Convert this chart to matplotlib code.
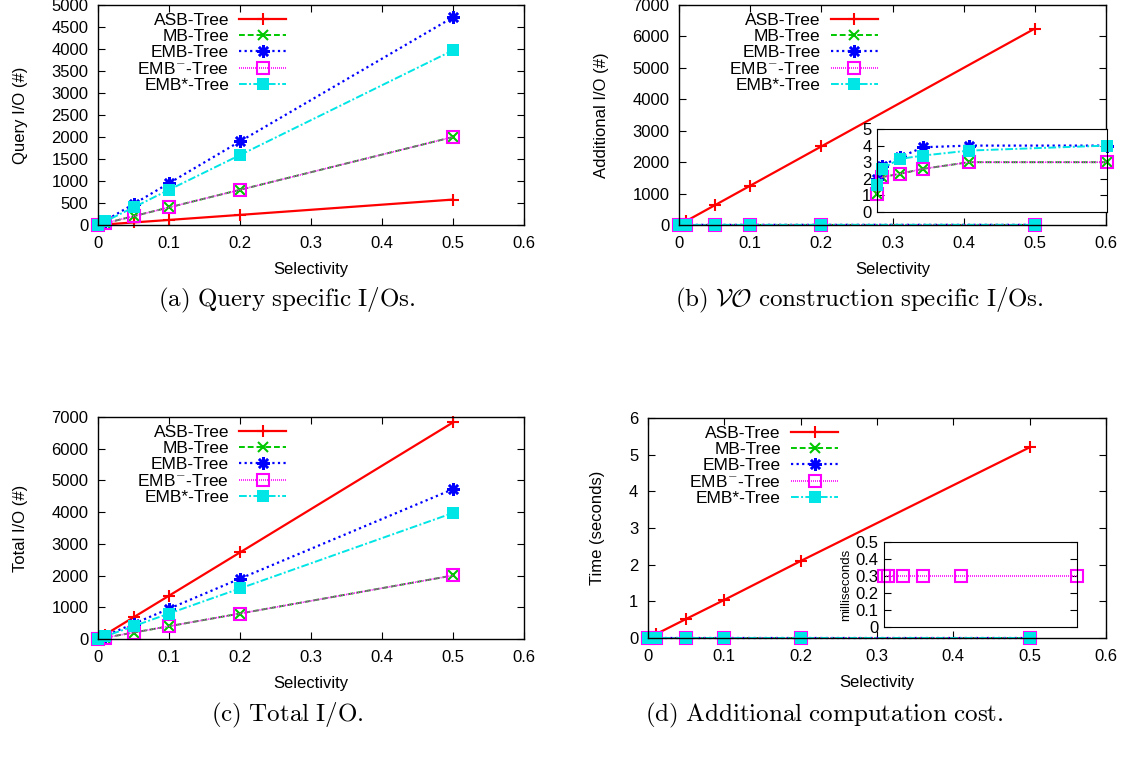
import numpy as np
import matplotlib
matplotlib.use("Agg")
import matplotlib.pyplot as plt

plt.rcParams['font.family'] = ['Liberation Sans', 'DejaVu Sans']
plt.rcParams['mathtext.fontset'] = 'cm'

# selectivity values
sel = [0.0, 0.01, 0.05, 0.1, 0.2, 0.5]

# (a) query I/O
q_asb = [2, 12, 58, 115, 230, 578]
q_mb = [0, 40, 200, 400, 800, 2000]
q_emb = [0, 95, 475, 950, 1900, 4720]
q_embm = [0, 40, 200, 400, 800, 2000]
q_embs = [0, 80, 400, 800, 1590, 3970]

# (b) additional I/O
a_asb = [12, 125, 625, 1250, 2500, 6250]
a_mb = [1.1, 2.1, 2.3, 2.6, 3.0, 3.0]
a_emb = [2.0, 2.8, 3.3, 3.9, 4.0, 4.0]
a_embm = [1.1, 2.1, 2.3, 2.6, 3.0, 3.0]
a_embs = [1.6, 2.6, 3.2, 3.4, 3.7, 4.0]

# (c) total I/O
t_asb = [14, 137, 683, 1365, 2730, 6830]
t_mb = [1, 42, 202, 403, 803, 2003]
t_emb = [2, 98, 478, 954, 1904, 4724]
t_embm = [1, 42, 202, 403, 803, 2003]
t_embs = [2, 83, 403, 803, 1594, 3974]

# (d) time in seconds, inset in milliseconds
s_asb = [0.01, 0.1, 0.52, 1.04, 2.1, 5.2]
ms_embm = [0.3, 0.3, 0.3, 0.3, 0.3, 0.3]

labels = ['ASB-Tree', 'MB-Tree', 'EMB-Tree', 'EMB$^{\\mathsf{-}}$-Tree', 'EMB*-Tree']
styles = [
    dict(color='#ff0000', ls='-', marker='+', ms=9, mew=1.5, lw=1.6),
    dict(color='#00c800', ls=(0, (3, 1.5)), marker='x', ms=7, mew=1.5, lw=1.4),
    dict(color='#0000ff', ls=(0, (1, 1.5)), marker=(8, 2, 0), ms=9, mew=1.8, lw=1.6),
    dict(color='#ff00ff', ls=(0, (0.6, 0.6)), marker='s', ms=8, mew=1.5, lw=1.2, mfc='none'),
    dict(color='#00e5e5', ls=(0, (4, 1.2, 1, 1.2)), marker='s', ms=8, mew=0, lw=1.4),
]

FS = 12
W, H = 1127, 763
fig = plt.figure(figsize=(W / 100, H / 100), dpi=100)


def px_axes(l, t, r, b):
    return fig.add_axes([l / W, 1 - b / H, (r - l) / W, (b - t) / H])


def style(ax, ymax, ystep, ylabel):
    ax.set_xlim(0, 0.6)
    ax.set_ylim(0, ymax)
    ax.set_xticks(np.arange(0, 0.61, 0.1))
    ax.set_xticklabels(['0', '0.1', '0.2', '0.3', '0.4', '0.5', '0.6'])
    ax.set_yticks(np.arange(0, ymax + ystep / 2, ystep))
    ax.tick_params(direction='in', top=True, right=True, labelsize=FS, length=5, width=0.8)
    ax.tick_params(axis='x', pad=8)
    ax.tick_params(axis='y', pad=7)
    ax.set_xlabel('Selectivity', fontsize=FS, labelpad=8)
    ax.set_ylabel(ylabel, fontsize=FS, labelpad=17)
    for s in ax.spines.values():
        s.set_linewidth(1.0)


def legend(ax, x, y):
    leg = ax.legend(loc='upper right', bbox_to_anchor=(x, y), frameon=False, fontsize=FS + 0.5,
                    markerfirst=False, handlelength=2.7, handletextpad=0.6,
                    labelspacing=0.05, borderpad=0, borderaxespad=0)
    for col in leg._legend_handle_box.get_children():
        col.align = 'right'
    return leg


def series(ax, ys, clip=True):
    for y, lab, st in zip(ys, labels, styles):
        ax.plot(sel, y, label=lab, clip_on=clip, **st)


# (a)
ax1 = px_axes(98, 5, 524, 225)
series(ax1, [q_asb, q_mb, q_emb, q_embm, q_embs], clip=False)
style(ax1, 5000, 500, 'Query I/O (#)')
legend(ax1, 0.442, 0.965)

# (b)
ax2 = px_axes(679, 5, 1106, 225)
series(ax2, [a_asb, a_mb, a_emb, a_embm, a_embs], clip=False)
style(ax2, 7000, 1000, 'Additional I/O (#)')
legend(ax2, 0.465, 0.965)
ins2 = px_axes(877, 129, 1107, 212)
for y, st in zip([a_mb, a_emb, a_embm, a_embs], styles[1:]):
    ins2.plot(sel, y, clip_on=False, **st)
ins2.set_xlim(0, 0.5)
ins2.set_ylim(0, 5)
ins2.set_xticks([])
ins2.set_yticks(range(6))
ins2.tick_params(direction='in', right=True, labelsize=FS, length=5, pad=4)

# (c)
ax3 = px_axes(98, 417, 524, 639)
series(ax3, [t_asb, t_mb, t_emb, t_embm, t_embs], clip=False)
style(ax3, 7000, 1000, 'Total I/O (#)')
legend(ax3, 0.442, 0.965)

# (d)
ax4 = px_axes(648, 418, 1106, 638)
s_zero = [v / 1000 for v in ms_embm]
series(ax4, [s_asb, s_zero, s_zero, s_zero, s_zero], clip=False)
style(ax4, 6, 1, 'Time (seconds)')
legend(ax4, 0.415, 0.965)
ins4 = px_axes(884, 542, 1077, 627)
ins4.plot(sel, ms_embm, clip_on=False, **styles[3])
ins4.set_xlim(0, 0.5)
ins4.set_ylim(0, 0.5)
ins4.set_xticks([])
ins4.set_yticks(np.arange(0, 0.51, 0.1))
ins4.set_yticklabels(['0', '0.1', '0.2', '0.3', '0.4', '0.5'])
ins4.tick_params(direction='in', right=True, labelsize=FS, length=5, pad=4)
ins4.set_ylabel('milliseconds', fontsize=9.5, labelpad=2)

# captions
cap = dict(fontsize=18, ha='center', va='center')
fig.text(287 / W, 1 - 300 / H, r'$\mathrm{(a)\ Query\ specific\ I/Os.}$', **cap)
fig.text(859 / W, 1 - 300 / H, r'$\mathrm{(b)}\ \mathcal{VO}\ \mathrm{construction\ specific\ I/Os.}$', **cap)
fig.text(287 / W, 1 - 715 / H, r'$\mathrm{(c)\ Total\ I/O.}$', **cap)
fig.text(824 / W, 1 - 715 / H, r'$\mathrm{(d)\ Additional\ computation\ cost.}$', **cap)

fig.savefig('out.png', dpi=100)
